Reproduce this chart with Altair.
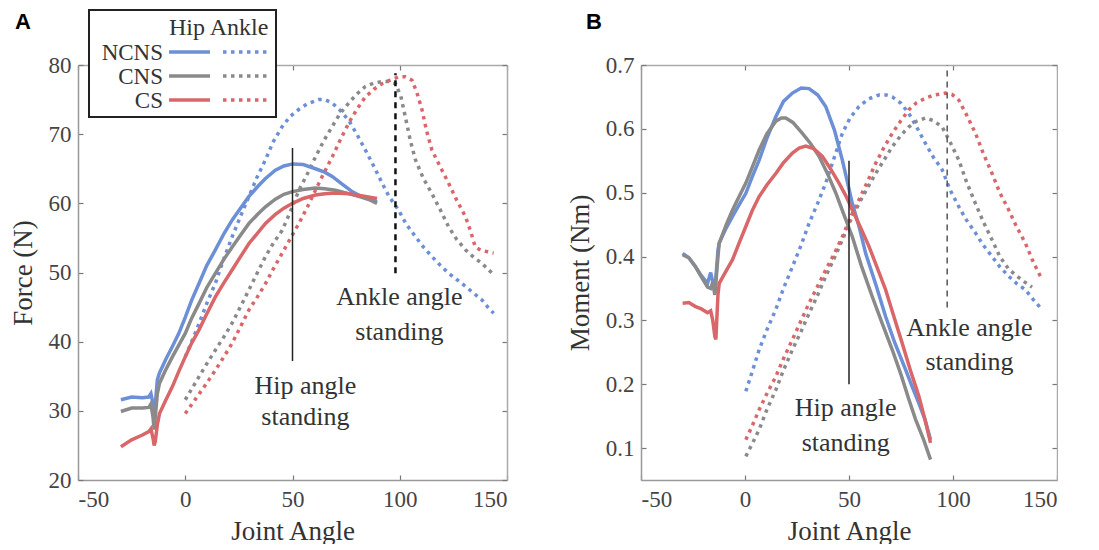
import altair as alt
import pandas as pd

SERIF = "Liberation Serif"
SANS = "Liberation Sans"

groups = ["NCNS", "CNS", "CS"]
colors = ["#6c8fd6", "#8a8a8a", "#d9676a"]

# ---------------- Panel A : Force (N) ----------------
a_hip_ncns_x = [-30, -25, -20, -17, -16, -15, -14.5, -13, -12, -9, -6, -3, 0, 3, 6.4, 10, 14.1, 18, 21.9, 26, 29.7, 34, 37.4, 42, 46, 50, 55, 60.7, 65, 68.5, 73, 77.8, 82, 86, 89.4]
a_hip_ncns_y = [31.6, 32.0, 31.9, 32.0, 32.5, 31.0, 29.0, 34.5, 35.5, 37.5, 39.3, 41.2, 43.5, 46.0, 48.4, 51.0, 53.3, 55.6, 57.6, 59.4, 61.0, 62.5, 63.6, 64.8, 65.4, 65.7, 65.6, 65.0, 64.5, 63.9, 62.8, 61.7, 61.0, 60.6, 60.2]

a_hip_cns_x = [-30, -25, -20, -17, -16, -15, -14.5, -13, -12, -9, -6, -3, 0, 3, 6.4, 10, 14.1, 18, 21.9, 26, 29.7, 34, 37.4, 42, 46, 50, 55, 60.7, 65, 70, 76.2, 82, 86, 89.4]
a_hip_cns_y = [29.9, 30.4, 30.4, 30.5, 31.0, 29.0, 27.3, 32.5, 34.0, 36.0, 37.8, 39.5, 41.2, 43.4, 45.5, 47.8, 49.9, 51.9, 53.7, 55.5, 57.1, 58.5, 59.5, 60.6, 61.3, 61.7, 62.0, 62.2, 62.1, 61.9, 61.4, 60.9, 60.5, 60.0]

a_hip_cs_x = [-30, -25, -20, -17, -16, -15, -14.5, -14, -13, -12, -9, -6, -3, 0, 3, 6.4, 10, 14.1, 18, 21.9, 26, 29.7, 34, 37.4, 42, 46, 50, 55, 60.7, 65, 70, 76.2, 82, 86, 89.4]
a_hip_cs_y = [24.8, 25.8, 26.5, 27.0, 27.4, 26.0, 25.0, 25.5, 28.0, 29.6, 31.6, 33.5, 35.7, 37.8, 39.8, 41.7, 44.0, 46.5, 48.5, 50.4, 52.4, 54.2, 55.8, 57.1, 58.4, 59.3, 60.0, 60.7, 61.2, 61.4, 61.5, 61.4, 61.1, 60.9, 60.7]

a_ank_ncns_x = [0, 5, 10, 14.1, 18, 21.9, 26, 29.7, 33.5, 37.4, 41, 45.2, 49, 53, 57, 62.3, 65, 68.5, 72, 76.2, 80, 84, 88, 91.8, 95, 99.5, 103, 107.3, 111, 115, 119, 122.8, 126.5, 130.6, 134.5, 138.4, 141, 143.8]
a_ank_ncns_y = [37.8, 41.5, 45.5, 48.5, 52.0, 55.2, 58.3, 61.0, 63.8, 66.3, 68.9, 71.1, 72.6, 73.6, 74.4, 75.0, 75.0, 74.5, 73.5, 72.0, 70.0, 67.7, 65.3, 62.9, 61.0, 59.0, 57.0, 55.2, 53.7, 52.3, 51.0, 49.9, 49.0, 48.0, 47.0, 46.0, 45.0, 44.1]

a_ank_cns_x = [0, 5, 10, 14.1, 18, 21.9, 26, 29.7, 33.5, 37.4, 41, 45.2, 49, 53, 57, 60.7, 64.5, 68.5, 72, 76.2, 80, 84, 88, 91.8, 95, 98, 100.5, 102.6, 105, 107.3, 111, 115, 119, 122.8, 126.5, 130.6, 134.5, 138.4, 143]
a_ank_cns_y = [31.6, 34.2, 36.8, 38.8, 40.7, 42.7, 45.2, 47.5, 49.9, 52.3, 54.2, 56.1, 58.8, 61.9, 64.3, 66.7, 69.0, 71.1, 72.9, 74.5, 75.8, 76.9, 77.4, 77.6, 77.6, 77.3, 75.5, 72.5, 69.0, 66.3, 63.6, 61.4, 59.0, 56.6, 54.8, 53.3, 52.2, 51.3, 49.9]

a_ank_cs_x = [0, 5, 10, 14.1, 18, 21.9, 26, 29.7, 33.5, 37.4, 41, 45.2, 49, 53, 57, 60.7, 64.5, 68.5, 72, 76.2, 80, 84, 88, 91.8, 95.5, 99.5, 102.5, 105.7, 108, 110.4, 112.5, 115, 119, 122.8, 126.5, 130.6, 133, 135.2, 138, 141, 143.8]
a_ank_cs_y = [29.6, 31.8, 34.0, 35.9, 37.8, 39.8, 42.3, 44.6, 46.4, 48.4, 50.5, 52.8, 54.9, 57.1, 59.5, 61.9, 64.3, 66.7, 69.0, 71.6, 73.6, 75.4, 76.5, 77.3, 77.8, 78.3, 78.3, 77.8, 76.0, 73.5, 70.5, 67.7, 65.2, 62.9, 60.5, 58.1, 56.0, 53.7, 53.2, 53.0, 52.8]

# ---------------- Panel B : Moment (Nm) ----------------
b_hip_ncns_x = [-30, -27, -24, -21, -18, -16.5, -15.5, -14.5, -13, -12.4, -9, -6, -3, 0.4, 3.5, 6.8, 10.5, 14.8, 18.5, 22.8, 27, 30.8, 35, 38.8, 43, 46.8, 49, 51.6, 55, 58, 63, 67.6, 72, 77.2, 80.5, 83.6, 86.5, 89.2]
b_hip_ncns_y = [0.405, 0.398, 0.385, 0.370, 0.358, 0.375, 0.360, 0.345, 0.410, 0.421, 0.445, 0.463, 0.480, 0.499, 0.525, 0.551, 0.585, 0.619, 0.643, 0.656, 0.664, 0.663, 0.653, 0.635, 0.598, 0.551, 0.520, 0.483, 0.445, 0.405, 0.355, 0.306, 0.265, 0.223, 0.195, 0.170, 0.145, 0.113]

b_hip_cns_x = [-30, -27, -24, -21, -18, -16.5, -15.5, -14.5, -13, -12.4, -9, -6, -3, 0.4, 3.5, 6.8, 10.5, 14.8, 17.5, 19.6, 23, 27.6, 31.5, 35.6, 39.5, 43.6, 47.5, 51.6, 56, 61.2, 66, 70.8, 75, 78.8, 82, 86, 89.2]
b_hip_cns_y = [0.403, 0.398, 0.385, 0.368, 0.352, 0.350, 0.360, 0.340, 0.400, 0.421, 0.450, 0.473, 0.493, 0.515, 0.540, 0.567, 0.592, 0.612, 0.617, 0.617, 0.610, 0.593, 0.577, 0.557, 0.531, 0.500, 0.466, 0.431, 0.385, 0.337, 0.295, 0.254, 0.215, 0.176, 0.145, 0.112, 0.082]

b_hip_cs_x = [-30, -27, -24, -21, -18, -16.5, -15.5, -14.5, -14, -13, -12.4, -9, -6, -3, 0.4, 3.5, 6.8, 10.5, 14.8, 18.5, 22.8, 26, 29.2, 33, 37.2, 41, 45.2, 48.5, 51.6, 55.5, 59.6, 63.5, 67.6, 71.5, 75.6, 79.5, 83.6, 86.5, 89.2]
b_hip_cs_y = [0.327, 0.328, 0.322, 0.318, 0.312, 0.315, 0.300, 0.275, 0.270, 0.340, 0.358, 0.378, 0.395, 0.420, 0.447, 0.472, 0.494, 0.512, 0.530, 0.547, 0.562, 0.570, 0.573, 0.569, 0.557, 0.538, 0.515, 0.495, 0.473, 0.446, 0.416, 0.383, 0.348, 0.307, 0.264, 0.222, 0.181, 0.145, 0.108]

b_ank_ncns_x = [0.4, 3.5, 6.8, 10.5, 14.8, 18.5, 22.8, 27, 30.8, 35, 38.8, 43, 46.8, 50.5, 54.8, 59.5, 64.4, 68, 70.8, 75, 78.8, 82.5, 86.8, 90.5, 94.8, 98.5, 102.8, 106.5, 110.8, 114.5, 118.8, 122.5, 126.8, 130.5, 134.8, 138.5, 142.8]
b_ank_ncns_y = [0.189, 0.220, 0.254, 0.285, 0.317, 0.350, 0.384, 0.418, 0.452, 0.484, 0.515, 0.556, 0.593, 0.617, 0.635, 0.647, 0.653, 0.653, 0.650, 0.640, 0.624, 0.603, 0.577, 0.556, 0.536, 0.505, 0.478, 0.457, 0.437, 0.418, 0.400, 0.384, 0.369, 0.358, 0.348, 0.333, 0.317]

b_ank_cns_x = [0.4, 3.5, 6.8, 10.5, 14.8, 18.5, 22.8, 27, 30.8, 35, 38.8, 43, 46.8, 50.5, 54.8, 59, 62.8, 67, 70.8, 75, 78.8, 82.5, 86.8, 90.5, 94.8, 98.5, 102.8, 106.5, 110.8, 114.5, 118.8, 122.5, 126.8, 130.5, 134.5, 138]
b_ank_cns_y = [0.087, 0.107, 0.129, 0.160, 0.191, 0.222, 0.254, 0.283, 0.311, 0.340, 0.369, 0.398, 0.426, 0.455, 0.483, 0.508, 0.530, 0.552, 0.572, 0.590, 0.603, 0.612, 0.617, 0.613, 0.603, 0.580, 0.551, 0.517, 0.483, 0.455, 0.426, 0.400, 0.380, 0.370, 0.360, 0.352]

b_ank_cs_x = [0.4, 3.5, 6.8, 10.5, 14.8, 18.5, 22.8, 27, 30.8, 35, 38.8, 43, 46.8, 50.5, 54.8, 59, 62.8, 67, 70.8, 75, 78.8, 82.5, 86.8, 91, 96.4, 99.5, 102.8, 106.5, 110.8, 114.5, 118.8, 122.5, 126.8, 130.5, 134.8, 138.5, 142.8]
b_ank_cs_y = [0.113, 0.135, 0.160, 0.185, 0.212, 0.240, 0.270, 0.300, 0.327, 0.354, 0.379, 0.405, 0.431, 0.460, 0.489, 0.518, 0.546, 0.572, 0.593, 0.613, 0.630, 0.641, 0.648, 0.653, 0.656, 0.654, 0.645, 0.622, 0.593, 0.562, 0.530, 0.500, 0.473, 0.447, 0.421, 0.392, 0.364]

# reference lines (standing angles)
a_hip_line = {"x": [50], "y1": [37.2], "y2": [68.0]}
a_ank_line = {"x": [98], "y1": [49.9], "y2": [78.8]}
b_hip_line = {"x": [50], "y1": [0.20], "y2": [0.55]}
b_ank_line = {"x": [97.2], "y1": [0.32], "y2": [0.70]}

# annotation text
ann_text = ["Hip angle", "standing", "Ankle angle", "standing"]
a_ann_x = [56, 56, 99.8, 99.8]
a_ann_y = [32.5, 28.0, 45.3, 40.2]
b_ann_x = [48.4, 48.4, 107.9, 107.9]
b_ann_y = [0.150, 0.095, 0.275, 0.223]

x_ticks = [-50, 0, 50, 100, 150]
a_y_ticks = [20, 30, 40, 50, 60, 70, 80]
b_y_ticks = [0.1, 0.2, 0.3, 0.4, 0.5, 0.6, 0.7]


def long_df(hip, ank):
    rows = []
    for g, (xs, ys) in zip(groups, hip):
        for x, y in zip(xs, ys):
            rows.append({"x": x, "y": y, "group": g, "joint": "Hip"})
    for g, (xs, ys) in zip(groups, ank):
        for x, y in zip(xs, ys):
            rows.append({"x": x, "y": y, "group": g, "joint": "Ankle"})
    return pd.DataFrame(rows)


df_a = long_df(
    [(a_hip_ncns_x, a_hip_ncns_y), (a_hip_cns_x, a_hip_cns_y), (a_hip_cs_x, a_hip_cs_y)],
    [(a_ank_ncns_x, a_ank_ncns_y), (a_ank_cns_x, a_ank_cns_y), (a_ank_cs_x, a_ank_cs_y)],
)
df_b = long_df(
    [(b_hip_ncns_x, b_hip_ncns_y), (b_hip_cns_x, b_hip_cns_y), (b_hip_cs_x, b_hip_cs_y)],
    [(b_ank_ncns_x, b_ank_ncns_y), (b_ank_cns_x, b_ank_cns_y), (b_ank_cs_x, b_ank_cs_y)],
)

color_scale = alt.Scale(domain=groups, range=colors)
INWARD = {"expr": "-5"}
DOT = [3.5, 4.5]


def axis_common(**kw):
    base = dict(
        domainColor="#999", domainWidth=1.5, tickColor="#777", tickWidth=1.2,
        tickSize=INWARD, labelFont=SERIF, labelFontSize=23, labelColor="#444",
        titleFont=SERIF, titleFontSize=27, titleColor="#333",
        titleFontWeight="normal", grid=False,
    )
    base.update(kw)
    return alt.Axis(**base)


def panel(df, y_dom, y_ticks, y_title, y_fmt, hip_line, ank_line, ann_x, ann_y,
          ank_dash_style, width, letter, letter_dx, legend):
    xs = alt.Scale(domain=[-50, 150], nice=False, zero=False)
    ys = alt.Scale(domain=y_dom, nice=False, zero=False)
    x_axis = axis_common(values=x_ticks, labelPadding=13, titlePadding=7,
                         labelExpr="datum.value < 0 ? '-' + abs(datum.value) : '' + datum.value")
    y_axis = axis_common(values=y_ticks, labelPadding=12, titlePadding=11, format=y_fmt)

    ank = alt.Chart(df[df.joint == "Ankle"]).mark_line(
        strokeWidth=3.5, strokeDash=DOT
    ).encode(
        x=alt.X("x:Q", scale=xs, axis=x_axis, title="Joint Angle"),
        y=alt.Y("y:Q", scale=ys, axis=y_axis, title=y_title),
        color=alt.Color("group:N", scale=color_scale, legend=None),
        detail="group:N",
    )
    hip = alt.Chart(df[df.joint == "Hip"]).mark_line(strokeWidth=3.5).encode(
        x=alt.X("x:Q", scale=xs, axis=None),
        y=alt.Y("y:Q", scale=ys, axis=None),
        color=alt.Color("group:N", scale=color_scale, legend=None),
        detail="group:N",
    )
    hline = alt.Chart(pd.DataFrame(hip_line)).mark_rule(
        color="#222", strokeWidth=1.5
    ).encode(
        x=alt.X("x:Q", scale=xs, axis=None),
        y=alt.Y("y1:Q", scale=ys, axis=None), y2="y2:Q",
    )
    aline = alt.Chart(pd.DataFrame(ank_line)).mark_rule(**ank_dash_style).encode(
        x=alt.X("x:Q", scale=xs, axis=None),
        y=alt.Y("y1:Q", scale=ys, axis=None), y2="y2:Q",
    )
    ann = alt.Chart(pd.DataFrame({"t": ann_text, "x": ann_x, "y": ann_y})).mark_text(
        font=SERIF, fontSize=26, color="#333", align="center", baseline="alphabetic"
    ).encode(
        x=alt.X("x:Q", scale=xs, axis=None),
        y=alt.Y("y:Q", scale=ys, axis=None),
        text="t:N",
    )
    box = alt.Chart(pd.DataFrame({"x": [0.0], "y": [float(y_ticks[2])]})).mark_point(
        opacity=0
    ).encode(
        x=alt.X("x:Q", scale=xs, axis=axis_common(orient="top", values=x_ticks, labels=False,
                                                     title=None, domainColor="#aaa")),
        y=alt.Y("y:Q", scale=ys, axis=axis_common(orient="right", values=y_ticks, labels=False,
                                                     title=None, domainColor="#aaa")),
    )
    dummy = pd.DataFrame({"d": [0]})
    letter_mark = alt.Chart(dummy).mark_text(
        text=letter, font=SANS, fontWeight="bold", fontSize=22, color="#000",
        align="center", baseline="middle"
    ).encode(x=alt.value(letter_dx), y=alt.value(-43))

    layers = [ank, hip, hline, aline, ann, box, letter_mark] + legend
    return alt.layer(*layers).resolve_axis(x="independent", y="independent").properties(
        width=width, height=415
    )


def legend_layers():
    dummy = pd.DataFrame({"d": [0]})
    out = [
        alt.Chart(dummy).mark_rect(fill="white", stroke="#222", strokeWidth=2).encode(
            x=alt.value(11), x2=alt.value(198), y=alt.value(-55), y2=alt.value(52)
        ),
        alt.Chart(dummy).mark_text(text="Hip", font=SERIF, fontSize=24, color="#333",
                                   align="center", baseline="alphabetic").encode(
            x=alt.value(109), y=alt.value(-30)),
        alt.Chart(dummy).mark_text(text="Ankle", font=SERIF, fontSize=24, color="#333",
                                   align="center", baseline="alphabetic").encode(
            x=alt.value(161), y=alt.value(-30)),
    ]
    for i, (g, c) in enumerate(zip(groups, colors)):
        yy = -13 + 24 * i
        out.append(alt.Chart(dummy).mark_text(text=g, font=SERIF, fontSize=23, color="#333",
                                              align="right", baseline="middle").encode(
            x=alt.value(85), y=alt.value(yy + 1)))
        out.append(alt.Chart(dummy).mark_rule(color=c, strokeWidth=3.5).encode(
            x=alt.value(91), x2=alt.value(132), y=alt.value(yy)))
        out.append(alt.Chart(dummy).mark_rule(color=c, strokeWidth=3.5, strokeDash=DOT).encode(
            x=alt.value(145), x2=alt.value(190), y=alt.value(yy)))
    return out


chart_a = panel(df_a, [20, 80], a_y_ticks, "Force (N)", "d", a_hip_line, a_ank_line,
                a_ann_x, a_ann_y, dict(color="#111", strokeWidth=2.5, strokeDash=[6, 5]),
                429, "A", -55, legend_layers())
chart_b = panel(df_b, [0.05, 0.7], b_y_ticks, "Moment (Nm)", ".1f", b_hip_line, b_ank_line,
                b_ann_x, b_ann_y, dict(color="#555", strokeWidth=1.5, strokeDash=[6, 5]),
                416, "B", -47, [])

chart = alt.hconcat(chart_a, chart_b, spacing=58).properties(
    padding={"left": 1, "top": 1, "right": 0, "bottom": 0}
).configure_view(stroke=None)

chart.save("out.html", embed_options={"renderer": "svg", "actions": False})
